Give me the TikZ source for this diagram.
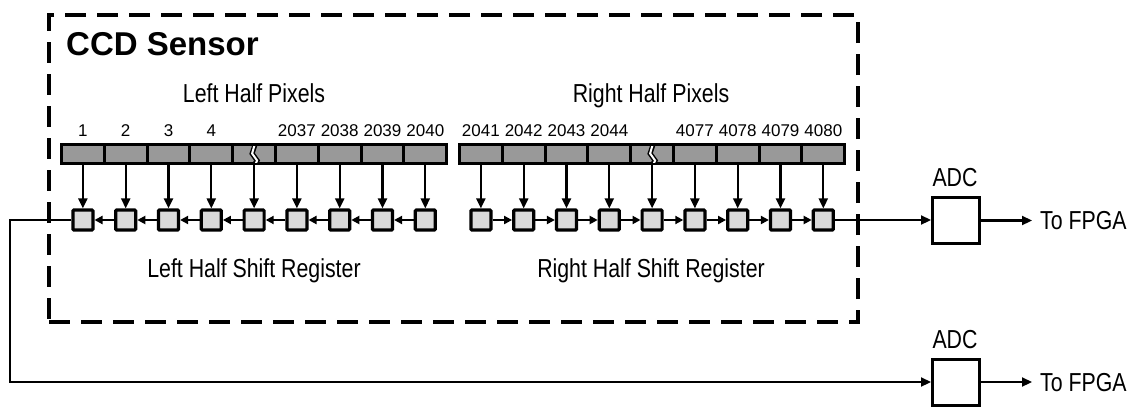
\documentclass[tikz,border=0pt]{standalone}
\usepackage{fontspec}
\setmainfont{Liberation Sans}
\newfontfamily\narrowfont[FakeStretch=0.82]{Liberation Sans}
\usetikzlibrary{arrows.meta}
\definecolor{pixgray}{RGB}{153,153,153}
\definecolor{reggray}{RGB}{217,217,217}
\begin{document}
\begin{tikzpicture}[x=1pt,y={(0pt,-1pt)},
  pixel/.style={draw, fill=pixgray, line width=3pt, minimum width=42.8pt, minimum height=19pt, inner sep=0pt, outer sep=0pt},
  reg/.style={draw, fill=reggray, line width=3.2pt, rounded corners=1pt, minimum size=20pt, inner sep=0pt},
  adc/.style={draw, line width=3pt, minimum width=47pt, minimum height=46pt, inner sep=0pt},
  arr/.style={line width=2.2pt, -{Triangle[length=10pt,width=9pt]}},
  harr/.style={line width=2.2pt, -{Triangle[length=8pt,width=8pt]}},
  wire/.style={line width=2.2pt},
  lbl/.style={font=\narrowfont\fontsize{26}{30}\selectfont, inner sep=0pt},
  num/.style={font=\fontsize{17}{20}\selectfont, inner sep=0pt, anchor=base},
  frame/.style={draw, line width=3.5pt, dash pattern=on 21pt off 11pt, inner sep=0pt, minimum width=809pt, minimum height=307pt},
  brk/.style={line width=5pt},
  brkw/.style={white, line width=2pt},
]
\useasboundingbox (0,0) rectangle (1133,407);
\fill[white] (0,0) rectangle (1133,407);

% dashed sensor frame
\node[frame] (ccd) at (453.5,168.5) {};
\node[font=\bfseries\fontsize{33}{38}\selectfont, anchor=west, inner sep=0pt] (title) at (66,44) {CCD Sensor};

% headings
\node[lbl, anchor=base] (lhp) at (254,102) {Left Half Pixels};
\node[lbl, anchor=base] (rhp) at (651,102) {Right Half Pixels};
\node[lbl, anchor=base] (lhs) at (254,277) {Left Half Shift Register};
\node[lbl, anchor=base] (rhs) at (651,277) {Right Half Shift Register};

% pixels and registers
\foreach \i in {1,...,9} {
  \node[pixel] (pL\i) at ({61.5+(\i-0.5)*42.8},154) {};
  \node[pixel] (pR\i) at ({459.5+(\i-0.5)*42.8},154) {};
  \node[reg] (sL\i) at ({61.5+(\i-0.5)*42.8},220) {};
  \node[reg] (sR\i) at ({459.5+(\i-0.5)*42.8},220) {};
}

% break marks
\foreach \c in {pL5,pR5} {
  \draw[brk] ([xshift=1pt]\c.north) -- ([xshift=-2pt,yshift=-9pt]\c.north) -- ([xshift=3pt,yshift=-16pt]\c.north) -- ([xshift=1pt]\c.south);
  \begin{scope}
    \clip ([yshift=-1.5pt]\c.north west) rectangle ([yshift=1.5pt]\c.south east);
    \draw[brkw] ([xshift=1.2pt,yshift=2pt]\c.north) -- ([xshift=-2pt,yshift=-9pt]\c.north) -- ([xshift=3pt,yshift=-16pt]\c.north) -- ([xshift=0.8pt,yshift=-2pt]\c.south);
  \end{scope}
}

% pixel numbers
\foreach \i/\t in {1/1,2/2,3/3,4/4,6/2037,7/2038,8/2039,9/2040} {
  \node[num] (nL\i) at ({61.5+(\i-0.5)*42.8},136) {\t};
}
\foreach \i/\t in {1/2041,2/2042,3/2043,4/2044,6/4077,7/4078,8/4079,9/4080} {
  \node[num] (nR\i) at ({459.5+(\i-0.5)*42.8},136) {\t};
}

% transfer arrows
\foreach \i in {1,...,9} {
  \draw[arr] (pL\i.south) -- (sL\i.north);
  \draw[arr] (pR\i.south) -- (sR\i.north);
}
\foreach \i [evaluate=\i as \j using int(\i+1)] in {1,...,8} {
  \draw[harr] (sL\j.west) -- (sL\i.east);
  \draw[harr] (sR\i.east) -- (sR\j.west);
}

% ADCs
\node[adc] (adc1) at (956,220.5) {};
\node[adc] (adc2) at (956,382) {};
\node[lbl, anchor=base] (adc1l) at (955,186) {ADC};
\node[lbl, anchor=base] (adc2l) at (955,348) {ADC};
\node[lbl, anchor=west] (f1) at (1040,221) {To FPGA};
\node[lbl, anchor=west] (f2) at (1040,383) {To FPGA};

\draw[arr] (sR9.east) -- (sR9.east -| adc1.west);
\coordinate (lc) at (10,220);
\draw[arr] (sL1.west) -- (lc) |- (adc2.west);
\draw[arr, shorten >=8pt] (adc1.east) -- (f1.west |- adc1.east);
\draw[arr, shorten >=8pt] (adc2.east) -- (f2.west |- adc2.east);
\end{tikzpicture}
\end{document}
